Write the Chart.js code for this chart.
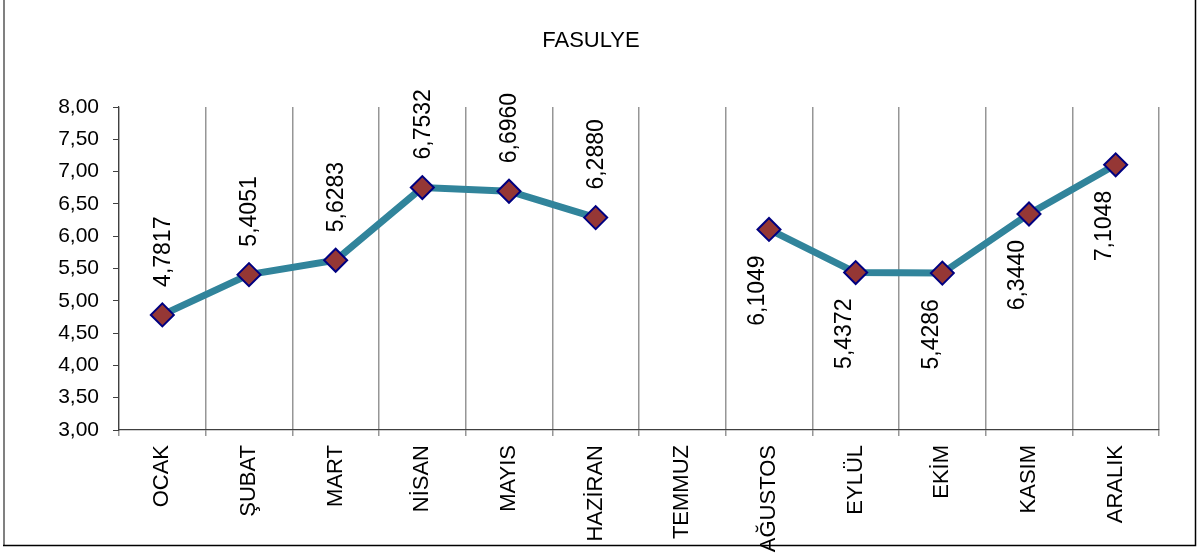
<!DOCTYPE html>
<html>
<head>
<meta charset="utf-8">
<script src="https://cdn.jsdelivr.net/npm/chart.js@4/dist/chart.umd.min.js"></script>
<style>
  html, body { margin: 0; padding: 0; background: #ffffff; }
  #wrap { width: 1199px; height: 553px; position: relative; }
</style>
</head>
<body>
<div id="wrap"><canvas id="c" width="1199" height="553"></canvas></div>
<script>
const chartTitle = 'FASULYE';
const months = ['OCAK', 'ŞUBAT', 'MART', 'NİSAN', 'MAYIS', 'HAZİRAN', 'TEMMUZ', 'AĞUSTOS', 'EYLÜL', 'EKİM', 'KASIM', 'ARALIK'];
const prices = [4.7817, 5.4051, 5.6283, 6.7532, 6.6960, 6.2880, null, 6.1049, 5.4372, 5.4286, 6.3440, 7.1048];
const yTickValues = [3.0, 3.5, 4.0, 4.5, 5.0, 5.5, 6.0, 6.5, 7.0, 7.5, 8.0];
const labelAbove = [true, true, true, true, true, true, true, false, false, false, false, false];

const FONT = "'Liberation Sans', Arial, sans-serif";
const fmt = v => v.toFixed(2).replace('.', ',');
const fmt4 = v => v.toFixed(4).replace('.', ',');

const framePlugin = {
  id: 'frame',
  beforeDraw(chart) {
    const ctx = chart.ctx;
    ctx.save();
    ctx.fillStyle = '#ffffff';
    ctx.fillRect(0, 0, chart.width, chart.height);
    ctx.restore();
  },
  afterDraw(chart, args, opts) {
    const ctx = chart.ctx;
    ctx.save();
    // title
    ctx.fillStyle = '#000000';
    ctx.font = '22px ' + FONT;
    ctx.textAlign = 'center';
    ctx.textBaseline = 'middle';
    ctx.fillText(opts.title, 591, 41);
    // outer border
    ctx.strokeStyle = '#808080';
    ctx.lineWidth = 2;
    ctx.beginPath();
    ctx.moveTo(4, 0); ctx.lineTo(4, 546);
    ctx.stroke();
    ctx.strokeStyle = '#000000';
    ctx.lineWidth = 1.5;
    ctx.beginPath();
    ctx.moveTo(3, 545.5); ctx.lineTo(1195.5, 545.5); ctx.lineTo(1195.5, 0);
    ctx.stroke();
    ctx.restore();
  }
};

const valueLabels = {
  id: 'valueLabels',
  afterDatasetsDraw(chart, args, opts) {
    const ctx = chart.ctx;
    const meta = chart.getDatasetMeta(0);
    ctx.save();
    ctx.font = opts.font;
    ctx.fillStyle = '#000000';
    ctx.textBaseline = 'middle';
    meta.data.forEach((pt, i) => {
      const v = prices[i];
      if (v === null || v === undefined) return;
      ctx.save();
      if (opts.above[i]) {
        ctx.translate(pt.x + 1, pt.y - 28);
        ctx.rotate(-Math.PI / 2);
        ctx.textAlign = 'left';
      } else {
        ctx.translate(pt.x - 11, pt.y + 26);
        ctx.rotate(-Math.PI / 2);
        ctx.textAlign = 'right';
      }
      ctx.fillText(fmt4(v), 0, 0);
      ctx.restore();
    });
    ctx.restore();
  }
};

new Chart(document.getElementById('c'), {
  type: 'line',
  data: {
    labels: months,
    datasets: [{
      data: prices,
      borderColor: '#31849B',
      borderWidth: 7,
      tension: 0,
      spanGaps: false,
      pointStyle: 'rectRot',
      pointRadius: 11.5,
      pointHoverRadius: 11.5,
      pointBackgroundColor: '#953735',
      pointBorderColor: '#000080',
      pointBorderWidth: 2
    }]
  },
  options: {
    responsive: false,
    animation: false,
    events: [],
    layout: { padding: { left: 0, right: 40, top: 107, bottom: 0 } },
    plugins: {
      legend: { display: false },
      tooltip: { enabled: false },
      title: { display: false },
      frame: { title: chartTitle },
      valueLabels: { font: "23px " + FONT, above: labelAbove }
    },
    scales: {
      x: {
        type: 'category',
        offset: true,
        grid: {
          offset: true,
          drawOnChartArea: true,
          drawTicks: true,
          tickLength: 6,
          color: '#969696',
          lineWidth: 1.5
        },
        border: { display: true, color: '#404040', width: 1.2 },
        ticks: {
          autoSkip: false,
          maxRotation: 90,
          minRotation: 90,
          padding: 9,
          color: '#000000',
          font: { family: FONT, size: 22 }
        },
        afterFit(scale) { scale.height = 123; }
      },
      y: {
        min: 3,
        max: 8,
        afterBuildTicks(scale) { scale.ticks = yTickValues.map(v => ({ value: v })); },
        grid: {
          drawOnChartArea: false,
          drawTicks: true,
          tickLength: 6,
          color: '#404040',
          lineWidth: 1
        },
        border: { display: true, color: '#404040', width: 1.2 },
        ticks: {
          padding: 14,
          color: '#000000',
          font: { family: FONT, size: 21 },
          callback: v => fmt(v)
        },
        afterFit(scale) { scale.width = 119; }
      }
    }
  },
  plugins: [framePlugin, valueLabels]
});
</script>
</body>
</html>
